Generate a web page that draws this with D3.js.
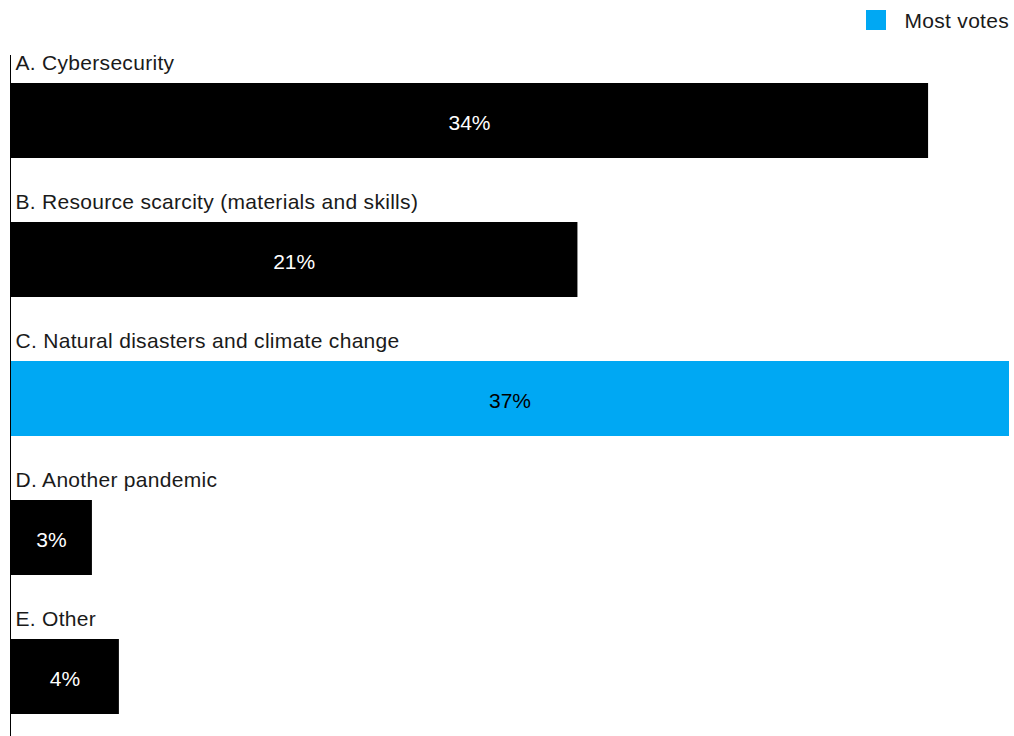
<!DOCTYPE html>
<html>
<head>
<meta charset="utf-8">
<script src="https://cdn.jsdelivr.net/npm/d3@7"></script>
<style>
  body { margin: 0; background: #fff; }
  svg { display: block; font-family: "Liberation Sans", Arial, Helvetica, sans-serif; }
</style>
</head>
<body>
<svg id="chart"></svg>
<script>
let categories = ["A. Cybersecurity", "B. Resource scarcity (materials and skills)", "C. Natural disasters and climate change", "D. Another pandemic", "E. Other"]
let values = [34, 21, 37, 3, 4]
let highlight = [false, false, true, false, false]
let legendLabel = "Most votes"

let width = 1014, height = 736
let blue = "#00a8f3"

let svg = d3.select("#chart")
    .attr("width", width)
    .attr("height", height)

let x = d3.scaleLinear().domain([0, 37]).range([11, 1009])
let y = d3.scaleBand().domain(categories).range([83, 714]).paddingInner(64 / 139).paddingOuter(0)

// bars
svg.selectAll(".bar")
    .data(categories)
    .enter().append("rect")
    .attr("class", "bar")
    .attr("x", x(0))
    .attr("y", d => y(d))
    .attr("width", (d, i) => x(values[i]) - x(0))
    .attr("height", y.bandwidth())
    .attr("fill", (d, i) => highlight[i] ? blue : "#000")

// category labels above the bars
svg.selectAll(".cat")
    .data(categories)
    .enter().append("text")
    .attr("class", "cat")
    .attr("x", 15.5)
    .attr("y", d => y(d) - 13.5)
    .style("font-size", "21px")
    .style("letter-spacing", "0.3px")
    .attr("fill", "#1a1a1a")
    .text(d => d)

// value labels in the bar centre
svg.selectAll(".val")
    .data(categories)
    .enter().append("text")
    .attr("class", "val")
    .attr("x", (d, i) => (x(0) + x(values[i])) / 2)
    .attr("y", d => y(d) + y.bandwidth() / 2 + 9)
    .attr("text-anchor", "middle")
    .style("font-size", "21px")
    .attr("fill", (d, i) => highlight[i] ? "#000" : "#fff")
    .text((d, i) => values[i] + "%")

// axis line
svg.append("line")
    .attr("x1", 10.5).attr("x2", 10.5)
    .attr("y1", 55).attr("y2", height)
    .attr("stroke", "#000")
    .attr("stroke-width", 1)

// legend
let legend = svg.append("g").attr("transform", "translate(866,10)")
legend.append("rect")
    .attr("width", 20).attr("height", 20)
    .attr("fill", blue)
legend.append("text")
    .attr("x", 38.5).attr("y", 17.5)
    .style("font-size", "21px")
    .style("letter-spacing", "0.3px")
    .attr("fill", "#1a1a1a")
    .text(legendLabel)
</script>
</body>
</html>
